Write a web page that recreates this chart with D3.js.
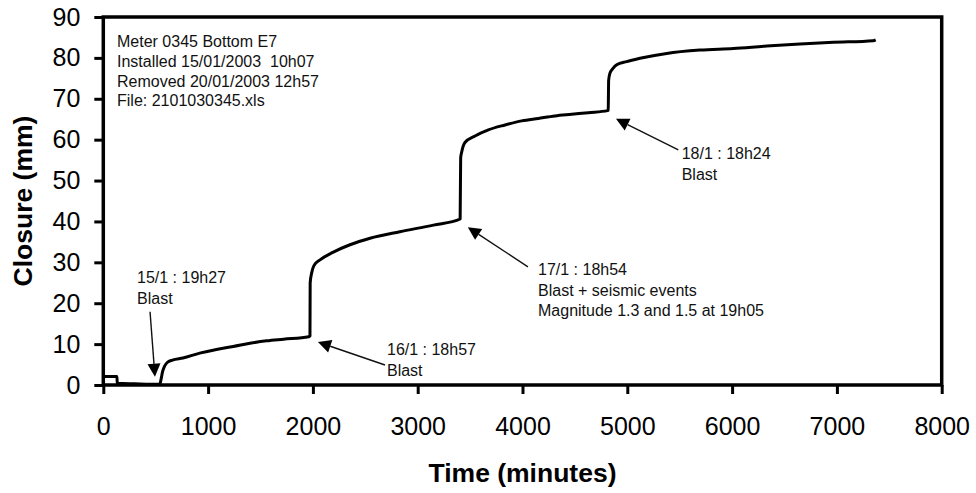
<!DOCTYPE html>
<html>
<head>
<meta charset="utf-8">
<script src="https://cdn.jsdelivr.net/npm/d3@7/dist/d3.min.js"></script>
<style>
  body { margin: 0; background: #fff; }
  svg { display: block; font-family: "Liberation Sans", Arial, sans-serif; }
  .tick text { fill: #000; }
</style>
</head>
<body>
<div id="chart"></div>
<script>
// closure readings (minutes since install, mm)
const times = [0, 130, 133, 300, 540, 552, 565, 585, 610, 660, 760, 920, 1080, 1240, 1400, 1560, 1720, 1960,
  1972, 1974, 1990, 2010, 2068, 2195, 2354, 2545, 2830, 3150, 3405,
  3410, 3420, 3451, 3547, 3674, 3833, 3992, 4151, 4310, 4469, 4628, 4812,
  4818, 4822, 4835, 4860, 4899, 4994, 5121, 5376, 5694, 6011, 6330, 6648, 6966, 7347, 7370];
const closure = [2.1, 2.1, 0.4, 0.3, 0.2, 1.5, 3.2, 4.6, 5.5, 6.1, 6.6, 7.8, 8.7, 9.4, 10.2, 10.8, 11.2, 11.8,
  12.0, 25.0, 27.6, 29.2, 30.6, 32.5, 34.3, 35.9, 37.5, 39.1, 40.6,
  55.5, 57.0, 59.3, 60.9, 62.4, 63.6, 64.6, 65.2, 65.8, 66.2, 66.6, 67.1,
  67.2, 74.5, 76.3, 77.3, 78.3, 79.1, 79.9, 81.1, 81.9, 82.3, 82.9, 83.4, 83.8, 84.2, 84.4];

const xTicks = [0, 1000, 2000, 3000, 4000, 5000, 6000, 7000, 8000];
const yTicks = [0, 10, 20, 30, 40, 50, 60, 70, 80, 90];

const infoLines = ["Meter 0345 Bottom E7", "Installed 15/01/2003  10h07", "Removed 20/01/2003 12h57", "File: 2101030345.xls"];

// annotation text anchor and arrow (tail -> tip), in data units
const notes = [
  { lines: ["15/1 : 19h27", "Blast"], t: 322, v: 24.9, from: [446, 17.9], to: [493, 2.0] },
  { lines: ["16/1 : 18h57", "Blast"], t: 2707, v: 7.3, from: [2688, 4.9], to: [2048, 10.5] },
  { lines: ["17/1 : 18h54", "Blast + seismic events", "Magnitude 1.3 and 1.5 at 19h05"], t: 4148, v: 26.9, from: [4052, 28.9], to: [3478, 38.6] },
  { lines: ["18/1 : 18h24", "Blast"], t: 5519, v: 55.3, from: [5487, 57.5], to: [4892, 65.1] }
];

const svgWidth = 976, svgHeight = 493,
  margin = { top: 17, right: 34.3, bottom: 108, left: 103.3 };
const width = svgWidth - margin.left - margin.right;
const height = svgHeight - margin.top - margin.bottom;

const svg = d3.select("#chart").append("svg")
  .attr("width", svgWidth)
  .attr("height", svgHeight);

const chartGroup = svg.append("g")
  .attr("transform", `translate(${margin.left}, ${margin.top})`);

const x = d3.scaleLinear().domain([0, 8000]).range([0, width]);
const y = d3.scaleLinear().domain([0, 90]).range([height, 0]);

// axes
const xAxis = chartGroup.append("g")
  .attr("transform", `translate(0, ${height})`)
  .call(d3.axisBottom(x).tickValues(xTicks).tickFormat(d3.format("d"))
    .tickSize(9).tickPadding(23).tickSizeOuter(0));
const yAxis = chartGroup.append("g")
  .call(d3.axisLeft(y).tickValues(yTicks).tickFormat(d3.format("d"))
    .tickSize(9).tickPadding(14).tickSizeOuter(0));

[xAxis, yAxis].forEach(a => {
  a.select(".domain").remove();
  a.selectAll(".tick line").attr("stroke", "#000").attr("stroke-width", 3);
  a.selectAll(".tick text").attr("font-size", "25px").attr("font-family", "Liberation Sans, Arial, sans-serif");
});

// frame
chartGroup.append("rect")
  .attr("x", 0).attr("y", 0)
  .attr("width", width).attr("height", height)
  .attr("fill", "none")
  .attr("stroke", "#000")
  .attr("stroke-width", 3.5);

// closure curve
const line = d3.line()
  .x((d, i) => x(times[i]))
  .y(d => y(d))
  .curve(d3.curveMonotoneX);

chartGroup.append("path")
  .datum(closure)
  .attr("d", line)
  .attr("fill", "none")
  .attr("stroke", "#000")
  .attr("stroke-width", 3)
  .attr("stroke-linejoin", "round");

// info block
const info = chartGroup.append("text")
  .attr("x", x(131))
  .attr("y", 30)
  .attr("font-size", "16px")
  .attr("fill", "#111");
info.selectAll("tspan")
  .data(infoLines)
  .enter()
  .append("tspan")
  .attr("x", x(131))
  .attr("dy", (d, i) => i === 0 ? 0 : 19.8)
  .style("white-space", "pre")
  .text(d => d);

// annotations
notes.forEach(n => {
  const t = chartGroup.append("text")
    .attr("x", x(n.t))
    .attr("y", y(n.v))
    .attr("font-size", "16px")
    .attr("fill", "#111");
  t.selectAll("tspan")
    .data(n.lines)
    .enter()
    .append("tspan")
    .attr("x", x(n.t))
    .attr("dy", (d, i) => i === 0 ? 0 : 20.7)
    .text(d => d);

  const x1 = x(n.from[0]), y1 = y(n.from[1]);
  const x2 = x(n.to[0]), y2 = y(n.to[1]);
  const ang = Math.atan2(y2 - y1, x2 - x1);
  const headLen = 13, headHalf = 6.5;
  const bx = x2 - headLen * Math.cos(ang), by = y2 - headLen * Math.sin(ang);

  chartGroup.append("line")
    .attr("x1", x1).attr("y1", y1)
    .attr("x2", bx).attr("y2", by)
    .attr("stroke", "#111")
    .attr("stroke-width", 1.4);

  chartGroup.append("polygon")
    .attr("points", [
      [x2, y2],
      [bx + headHalf * Math.sin(ang), by - headHalf * Math.cos(ang)],
      [bx - headHalf * Math.sin(ang), by + headHalf * Math.cos(ang)]
    ].map(p => p.join(",")).join(" "))
    .attr("fill", "#000");
});

// axis titles
svg.append("text")
  .attr("x", margin.left + x(4000))
  .attr("y", 482)
  .attr("text-anchor", "middle")
  .attr("font-size", "26.5px")
  .attr("font-weight", "bold")
  .text("Time (minutes)");

svg.append("text")
  .attr("transform", `translate(32, ${margin.top + y(45)}) rotate(-90)`)
  .attr("text-anchor", "middle")
  .attr("font-size", "26.5px")
  .attr("font-weight", "bold")
  .text("Closure (mm)");
</script>
</body>
</html>
